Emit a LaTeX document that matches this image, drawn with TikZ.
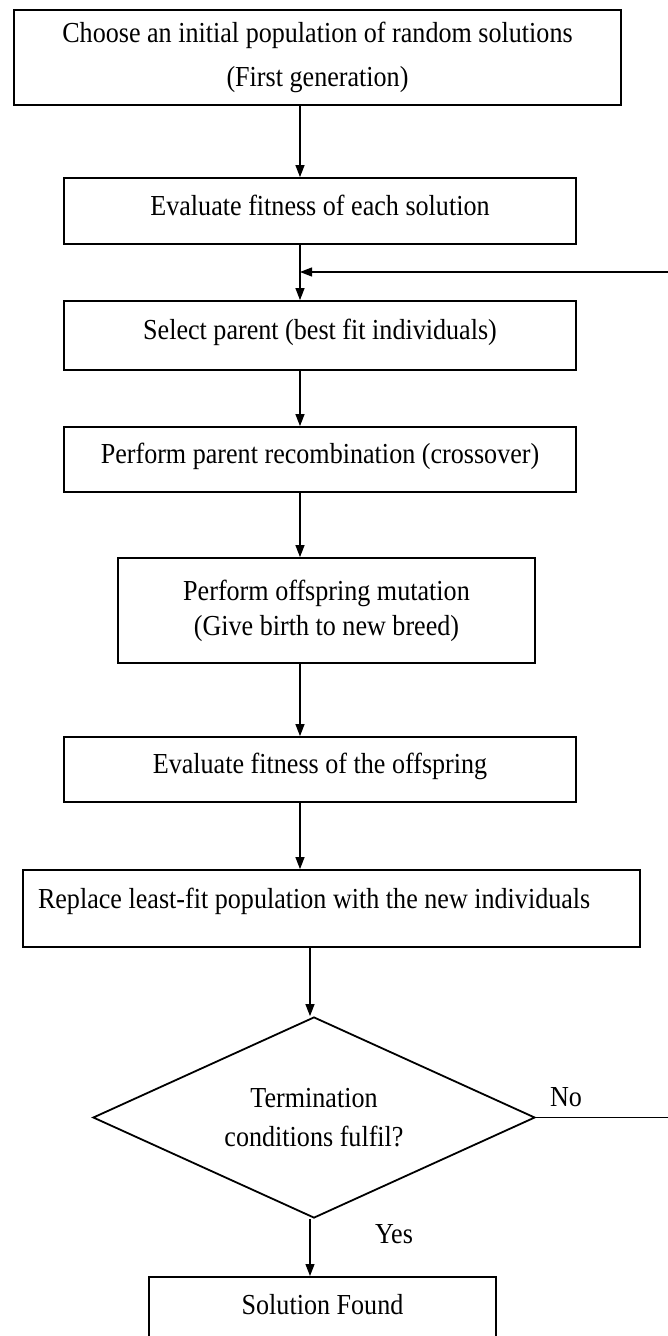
\documentclass[tikz,border=0pt]{standalone}
\usepackage{fontspec}
\setmainfont[FakeStretch=0.9]{Liberation Serif}
\usetikzlibrary{arrows.meta,shapes.geometric,calc}

\begin{document}
\begin{tikzpicture}[x=1pt,y=-1pt,
  every node/.style={font=\fontsize{29}{38}\selectfont},
  stepbox/.style={draw, line width=1.8pt, inner sep=0pt, align=center},
  decision/.style={draw, line width=1.8pt, diamond, aspect=2.2, inner sep=0pt,
    align=center, minimum width=442pt, minimum height=201pt},
  flow/.style={line width=1.2pt, -{Triangle[length=12pt,width=9pt]}},
  tag/.style={inner sep=0pt}
]
\useasboundingbox (0,0) rectangle (668,1336);
\clip (0,0) rectangle (668,1336);

% columns used by the vertical connectors
\coordinate (colA) at (300,0);
\coordinate (colB) at (310,0);

% process steps
\node[stepbox, minimum width=607pt, minimum height=95pt] (init) at (317.5,57.5)
  {Choose an initial population of random solutions\\[6pt](First generation)};
\node[stepbox, minimum width=512pt, minimum height=66pt, text depth=12pt] (evalsol) at (320,211)
  {Evaluate fitness of each solution};
\node[stepbox, minimum width=512pt, minimum height=69pt, text depth=12pt] (select) at (320,335.5)
  {Select parent (best fit individuals)};
\node[stepbox, minimum width=512pt, minimum height=65pt, text depth=12pt] (cross) at (320,459.5)
  {Perform parent recombination (crossover)};
\node[stepbox, minimum width=417pt, minimum height=105pt] (mutate) at (326.5,610.5)
  {Perform offspring mutation\\[-3pt](Give birth to new breed)};
\node[stepbox, minimum width=512pt, minimum height=65pt, text depth=12pt] (evaloff) at (320,769.5)
  {Evaluate fitness of the offspring};
\node[stepbox, align=flush left, text width=587pt, inner xsep=15pt, minimum height=77pt, text depth=20pt]
  (replace) at (331.5,908.5)
  {Replace least-fit population with the new individuals};
\node[decision] (term) at (314,1117.5) {Termination\\[1pt]conditions fulfil?};
\node[stepbox, anchor=north, minimum width=347pt, minimum height=90pt, text depth=35pt]
  (found) at (322.5,1276) {Solution Found};

% branch labels
\node[tag] (no) at (566,1097) {No};
\node[tag] (yes) at (394,1234) {Yes};

% main flow
\draw[flow] (init.south -| colA) -- (evalsol.north -| colA);
\draw[flow] (evalsol.south -| colA) -- (select.north -| colA);
\draw[flow] (select.south -| colA) -- (cross.north -| colA);
\draw[flow] (cross.south -| colA) -- (mutate.north -| colA);
\draw[flow] (mutate.south -| colA) -- (evaloff.north -| colA);
\draw[flow] (evaloff.south -| colA) -- (replace.north -| colA);
\draw[flow] (replace.south -| colB) -- (term.north -| colB);
\draw[flow] (term.south -| colB) -- (found.north -| colB);

% loop back to parent selection
\coordinate (back) at (300,272);
\draw[flow] (term.east) -- ++(200,0) |- (back);
\end{tikzpicture}
\end{document}
